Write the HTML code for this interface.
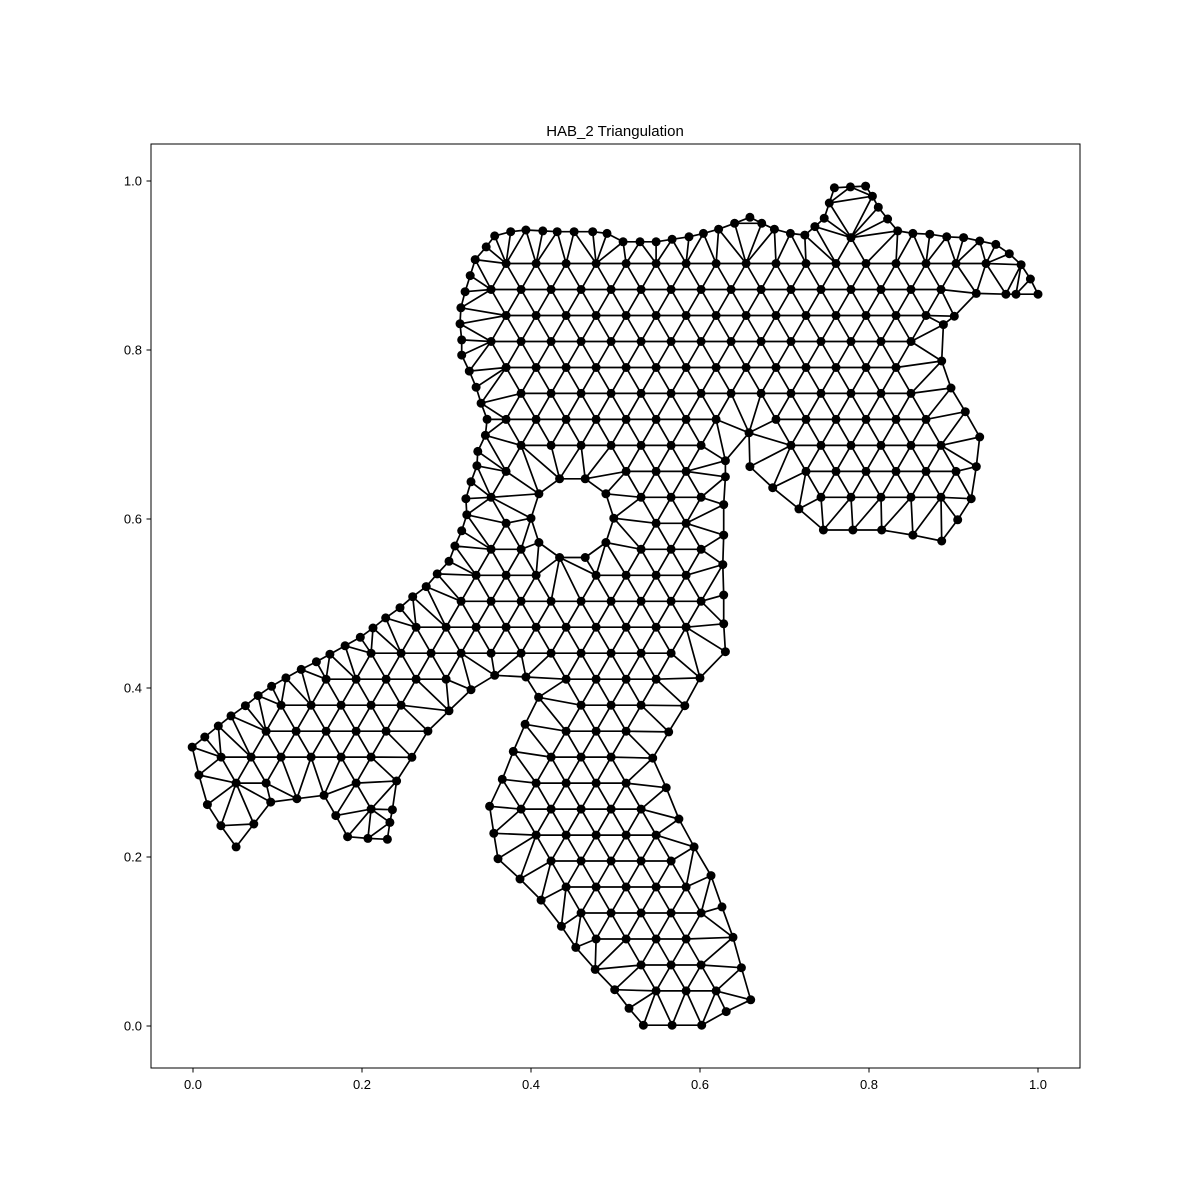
<!DOCTYPE html>
<html><head><meta charset="utf-8"><style>
html,body{margin:0;padding:0;background:#fff}
svg{display:block}
text{font-family:"Liberation Sans","DejaVu Sans",sans-serif;fill:#000}
</style></head><body>
<svg id="chart" width="1200" height="1200" viewBox="0 0 1200 1200" xmlns="http://www.w3.org/2000/svg">
<rect x="0" y="0" width="1200" height="1200" fill="#fff"/>
<text x="615" y="136" font-size="15" text-anchor="middle">HAB_2 Triangulation</text>
<g id="mesh"></g>
<g id="axes"></g>
<rect x="151" y="144" width="929" height="924" fill="none" stroke="#000" stroke-width="1"/>
</svg>
<script>
const boundaryX = [-0.001,0.014,0.030,0.045,0.062,0.077,0.093,0.110,0.128,0.146,0.162,0.180,0.198,0.213,0.228,0.245,0.260,0.276,0.289,0.303,0.310,0.318,0.324,0.323,0.329,0.336,0.337,0.346,0.348,0.341,0.335,0.327,0.318,0.318,0.316,0.317,0.322,0.328,0.334,0.347,0.357,0.376,0.394,0.414,0.431,0.451,0.473,0.490,0.509,0.529,0.548,0.567,0.587,0.604,0.622,0.641,0.659,0.673,0.688,0.707,0.724,0.736,0.747,0.753,0.759,0.778,0.796,0.804,0.811,0.822,0.834,0.852,0.872,0.892,0.912,0.931,0.950,0.966,0.980,0.991,1.000,0.974,0.962,0.927,0.901,0.888,0.886,0.897,0.914,0.931,0.927,0.921,0.905,0.886,0.852,0.815,0.781,0.746,0.717,0.686,0.659,0.658,0.630,0.630,0.628,0.628,0.627,0.628,0.628,0.630,0.600,0.582,0.563,0.544,0.560,0.575,0.593,0.613,0.626,0.639,0.649,0.660,0.631,0.602,0.567,0.533,0.516,0.499,0.476,0.453,0.436,0.412,0.387,0.361,0.356,0.351,0.366,0.379,0.393,0.409,0.394,0.357,0.329,0.303,0.278,0.259,0.241,0.236,0.233,0.230,0.207,0.183,0.169,0.155,0.123,0.092,0.072,0.051,0.033,0.017,0.007];
const boundaryY = [0.330,0.342,0.355,0.367,0.379,0.391,0.402,0.412,0.422,0.431,0.440,0.450,0.460,0.471,0.483,0.495,0.508,0.520,0.535,0.550,0.568,0.586,0.605,0.624,0.644,0.663,0.680,0.699,0.718,0.737,0.756,0.775,0.794,0.812,0.831,0.850,0.869,0.888,0.907,0.922,0.935,0.940,0.942,0.941,0.940,0.940,0.940,0.938,0.928,0.928,0.928,0.931,0.934,0.938,0.943,0.950,0.957,0.950,0.943,0.938,0.936,0.946,0.956,0.974,0.992,0.993,0.994,0.982,0.969,0.955,0.941,0.938,0.937,0.934,0.933,0.929,0.925,0.914,0.901,0.884,0.866,0.866,0.866,0.867,0.840,0.830,0.787,0.755,0.727,0.697,0.662,0.624,0.599,0.574,0.581,0.587,0.587,0.587,0.612,0.637,0.662,0.702,0.669,0.650,0.617,0.581,0.546,0.510,0.476,0.443,0.412,0.379,0.348,0.317,0.282,0.245,0.212,0.178,0.141,0.105,0.069,0.031,0.017,0.001,0.001,0.001,0.021,0.043,0.067,0.093,0.118,0.149,0.174,0.198,0.228,0.260,0.292,0.325,0.357,0.389,0.413,0.415,0.398,0.373,0.349,0.318,0.290,0.256,0.241,0.221,0.222,0.224,0.249,0.273,0.269,0.265,0.239,0.212,0.237,0.262,0.297];
const holeCenter = [0.449, 0.601];
const holeRadius = 0.049;
const meshSpacing = 0.0355;
const xTicks = [0.0,0.2,0.4,0.6,0.8,1.0];
const yTicks = [0.0,0.2,0.4,0.6,0.8,1.0];

const NS = "http://www.w3.org/2000/svg";
const sx = v => 193 + 845 * v;
const sy = v => 1026 - 845 * v;

function inPoly(x, y) {
  let c = false;
  for (let i = 0, j = boundaryX.length - 1; i < boundaryX.length; j = i++) {
    const xi = boundaryX[i], yi = boundaryY[i], xj = boundaryX[j], yj = boundaryY[j];
    if ((yi > y) !== (yj > y) && x < (xj - xi) * (y - yi) / (yj - yi) + xi) c = !c;
  }
  return c;
}
function segDist(px, py, ax, ay, bx, by) {
  const dx = bx - ax, dy = by - ay;
  let t = ((px - ax) * dx + (py - ay) * dy) / (dx * dx + dy * dy);
  t = Math.max(0, Math.min(1, t));
  return Math.hypot(px - ax - t * dx, py - ay - t * dy);
}
function boundDist(x, y) {
  let d = 1e9;
  for (let i = 0; i < boundaryX.length; i++) {
    const j = (i + 1) % boundaryX.length;
    d = Math.min(d, segDist(x, y, boundaryX[i], boundaryY[i], boundaryX[j], boundaryY[j]));
  }
  return d;
}
function inHole(x, y) { return Math.hypot(x - holeCenter[0], y - holeCenter[1]) < holeRadius; }

// nodes
const pts = [];
for (let i = 0; i < boundaryX.length; i++) pts.push([boundaryX[i], boundaryY[i]]);
const nh = 10;
for (let k = 0; k < nh; k++) {
  const a = 2 * Math.PI * k / nh;
  pts.push([holeCenter[0] + holeRadius * Math.cos(a), holeCenter[1] + holeRadius * Math.sin(a)]);
}
const h = meshSpacing, rh = h * Math.sqrt(3) / 2;
let row = 0;
for (let y = -0.02; y < 1.02; y += rh, row++) {
  for (let x = -0.02 + (row % 2 ? h / 2 : 0); x < 1.02; x += h) {
    if (!inPoly(x, y)) continue;
    if (boundDist(x, y) < 0.62 * h) continue;
    if (Math.hypot(x - holeCenter[0], y - holeCenter[1]) < holeRadius + 0.62 * h) continue;
    pts.push([x, y]);
  }
}

// Delaunay (Bowyer-Watson)
function circum(a, b, c) {
  const ax = a[0], ay = a[1], bx = b[0], by = b[1], cx = c[0], cy = c[1];
  const d = 2 * (ax * (by - cy) + bx * (cy - ay) + cx * (ay - by));
  const ux = ((ax*ax+ay*ay)*(by-cy)+(bx*bx+by*by)*(cy-ay)+(cx*cx+cy*cy)*(ay-by))/d;
  const uy = ((ax*ax+ay*ay)*(cx-bx)+(bx*bx+by*by)*(ax-cx)+(cx*cx+cy*cy)*(bx-ax))/d;
  return [ux, uy, (ax-ux)*(ax-ux)+(ay-uy)*(ay-uy)];
}
const P = pts.slice();
const n = P.length;
P.push([-10,-10],[10,-10],[0.5,10]);
let tris = [[n, n+1, n+2]];
tris[0].c = circum(P[n], P[n+1], P[n+2]);
for (let i = 0; i < n; i++) {
  const p = P[i];
  const bad = [], keep = [];
  for (const t of tris) {
    const c = t.c;
    if ((p[0]-c[0])**2 + (p[1]-c[1])**2 < c[2]) bad.push(t); else keep.push(t);
  }
  const edges = new Map();
  for (const t of bad) for (const [a,b] of [[t[0],t[1]],[t[1],t[2]],[t[2],t[0]]]) {
    const k = a < b ? a+","+b : b+","+a;
    if (edges.has(k)) edges.set(k, null); else edges.set(k, [a,b]);
  }
  for (const e of edges.values()) if (e) {
    const t = [e[0], e[1], i];
    t.c = circum(P[e[0]], P[e[1]], P[i]);
    keep.push(t);
  }
  tris = keep;
}
const mesh = document.getElementById("mesh");
const edgeSet = new Set();
let ed = "";
for (const t of tris) {
  if (t[0] >= n || t[1] >= n || t[2] >= n) continue;
  const cx = (P[t[0]][0]+P[t[1]][0]+P[t[2]][0])/3, cy = (P[t[0]][1]+P[t[1]][1]+P[t[2]][1])/3;
  if (!inPoly(cx, cy) || inHole(cx, cy)) continue;
  // also midpoints of edges must lie inside
  let ok = true;
  for (const [a,b] of [[t[0],t[1]],[t[1],t[2]],[t[2],t[0]]]) {
    const mx = (P[a][0]+P[b][0])/2, my = (P[a][1]+P[b][1])/2;
    if (!inPoly(mx,my) && boundDist(mx,my) > 0.004) ok = false;
    if (inHole(mx, my) && Math.hypot(mx-holeCenter[0],my-holeCenter[1]) < holeRadius*0.9) ok = false;
  }
  if (!ok) continue;
  for (const [a,b] of [[t[0],t[1]],[t[1],t[2]],[t[2],t[0]]]) {
    const k = a < b ? a+","+b : b+","+a;
    if (edgeSet.has(k)) continue;
    edgeSet.add(k);
    ed += "M" + sx(P[a][0]).toFixed(1) + " " + sy(P[a][1]).toFixed(1) + "L" + sx(P[b][0]).toFixed(1) + " " + sy(P[b][1]).toFixed(1);
  }
}
const path = document.createElementNS(NS, "path");
path.setAttribute("d", ed);
path.setAttribute("stroke", "#000");
path.setAttribute("stroke-width", "1.7");
path.setAttribute("fill", "none");


mesh.appendChild(path);
for (let i = 0; i < n; i++) {
  const c = document.createElementNS(NS, "circle");
  c.setAttribute("cx", sx(P[i][0]).toFixed(1));
  c.setAttribute("cy", sy(P[i][1]).toFixed(1));
  c.setAttribute("r", "4.5");
  c.setAttribute("fill", "#000");
  
  
  mesh.appendChild(c);
}
const axes = document.getElementById("axes");
for (const v of xTicks) {
  const l = document.createElementNS(NS, "line");
  l.setAttribute("x1", sx(v)); l.setAttribute("x2", sx(v));
  l.setAttribute("y1", 1068); l.setAttribute("y2", 1072.5);
  l.setAttribute("stroke", "#000");
  
  
  axes.appendChild(l);
  const t = document.createElementNS(NS, "text");
  t.setAttribute("x", sx(v)); t.setAttribute("y", 1089);
  t.setAttribute("font-size", "13"); t.setAttribute("text-anchor", "middle");
  t.textContent = v.toFixed(1);
  
  
  axes.appendChild(t);
}
for (const v of yTicks) {
  const l = document.createElementNS(NS, "line");
  l.setAttribute("x1", 146.5); l.setAttribute("x2", 151);
  l.setAttribute("y1", sy(v)); l.setAttribute("y2", sy(v));
  l.setAttribute("stroke", "#000");
  
  
  axes.appendChild(l);
  const t = document.createElementNS(NS, "text");
  t.setAttribute("x", 142); t.setAttribute("y", sy(v) + 4.5);
  t.setAttribute("font-size", "13"); t.setAttribute("text-anchor", "end");
  t.textContent = v.toFixed(1);
  
  
  axes.appendChild(t);
}
</script>
</body></html>
